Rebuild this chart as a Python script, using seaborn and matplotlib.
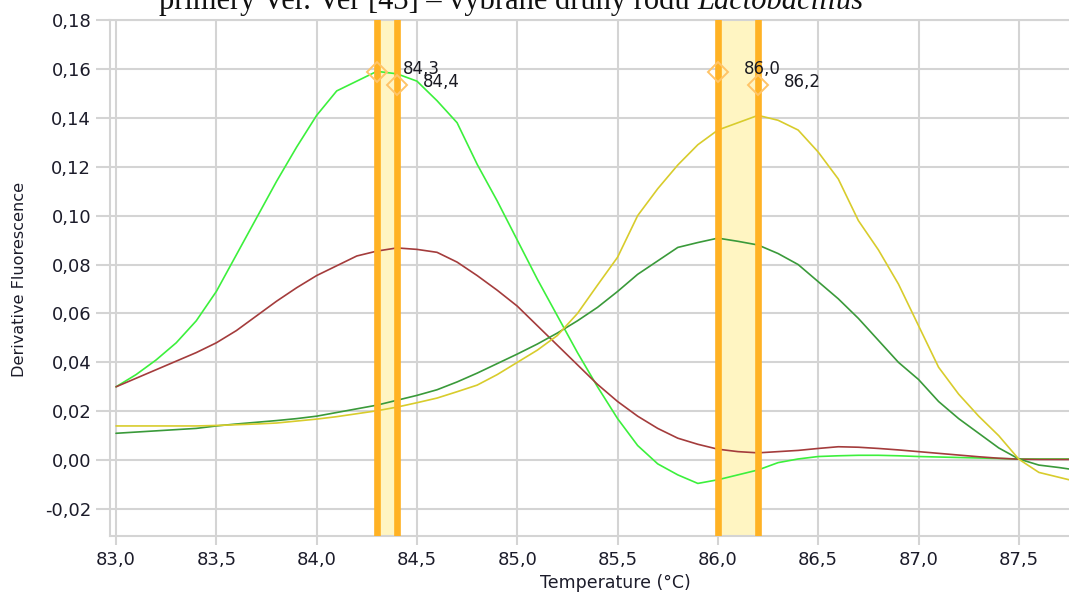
import matplotlib
matplotlib.use("Agg")
import matplotlib.pyplot as plt
import matplotlib.ticker as mticker
import seaborn as sns
import pandas as pd

# ---------------- data ----------------
temps = [83.0, 83.1, 83.2, 83.3, 83.4, 83.5, 83.6, 83.7, 83.8, 83.9,
         84.0, 84.1, 84.2, 84.3, 84.4, 84.5, 84.6, 84.7, 84.8, 84.9,
         85.0, 85.1, 85.2, 85.3, 85.4, 85.5, 85.6, 85.7, 85.8, 85.9,
         86.0, 86.1, 86.2, 86.3, 86.4, 86.5, 86.6, 86.7, 86.8, 86.9,
         87.0, 87.1, 87.2, 87.3, 87.4, 87.5, 87.6, 87.7, 87.8]

lime_curve = [0.030, 0.035, 0.041, 0.048, 0.057, 0.069, 0.084, 0.099, 0.114, 0.128,
              0.141, 0.151, 0.155, 0.159, 0.158, 0.155, 0.147, 0.138, 0.121, 0.106,
              0.090, 0.074, 0.059, 0.044, 0.030, 0.017, 0.006, -0.0015, -0.006, -0.0095,
              -0.008, -0.006, -0.004, -0.001, 0.0005, 0.0015, 0.0018, 0.002, 0.002, 0.0018,
              0.0015, 0.0013, 0.0011, 0.0009, 0.0007, 0.0005, 0.0005, 0.0005, 0.0005]

red_curve = [0.030, 0.0335, 0.037, 0.0405, 0.044, 0.048, 0.053, 0.059, 0.065, 0.0705,
             0.0755, 0.0795, 0.0835, 0.0855, 0.0868, 0.0862, 0.085, 0.081, 0.0755, 0.0695,
             0.063, 0.055, 0.047, 0.039, 0.031, 0.024, 0.018, 0.013, 0.009, 0.0065,
             0.0045, 0.0035, 0.003, 0.0035, 0.004, 0.0048, 0.0055, 0.0053, 0.0048, 0.0042,
             0.0035, 0.0028, 0.0021, 0.0014, 0.0008, 0.0004, 0.0003, 0.0003, 0.0003]

green_curve = [0.011, 0.0115, 0.012, 0.0125, 0.013, 0.014, 0.0148, 0.0155, 0.0162, 0.017,
               0.018, 0.0195, 0.021, 0.0225, 0.0245, 0.0265, 0.0288, 0.032, 0.0356, 0.0395,
               0.0434, 0.0475, 0.052, 0.057, 0.0625, 0.069, 0.076, 0.0815, 0.087, 0.089,
               0.0908, 0.0895, 0.088, 0.0845, 0.080, 0.073, 0.066, 0.058, 0.049, 0.040,
               0.033, 0.024, 0.017, 0.011, 0.005, 0.0005, -0.002, -0.003, -0.0042]

yellow_curve = [0.014, 0.014, 0.014, 0.014, 0.014, 0.0142, 0.0145, 0.0148, 0.0152, 0.016,
                0.0168, 0.0178, 0.019, 0.0202, 0.0217, 0.0235, 0.0254, 0.028, 0.0307, 0.035,
                0.040, 0.045, 0.051, 0.060, 0.0716, 0.083, 0.100, 0.111, 0.1207, 0.129,
                0.135, 0.138, 0.141, 0.139, 0.135, 0.126, 0.115, 0.098, 0.086, 0.072,
                0.055, 0.038, 0.027, 0.018, 0.010, 0.0004, -0.005, -0.007, -0.009]

curve_names = ["lime", "red", "green", "yellow"]
curve_colors = ["#3cf03c", "#a43c3c", "#3a9a3a", "#d8cc2c"]

band_pairs = [(84.3, 84.4), (86.0, 86.2)]
peak_temps = [84.3, 84.4, 86.0, 86.2]
peak_heights = [0.1587, 0.1534, 0.1587, 0.1534]
peak_labels = ["84,3", "84,4", "86,0", "86,2"]

x_ticks = [83.0, 83.5, 84.0, 84.5, 85.0, 85.5, 86.0, 86.5, 87.0, 87.5]
y_ticks = [-0.02, 0.0, 0.02, 0.04, 0.06, 0.08, 0.10, 0.12, 0.14, 0.16, 0.18]

title_main = "primery Ver. Ver [43] \u2013 vybrané druhy rodu "
title_italic = "Lactobacillus"
x_label = "Temperature (°C)"
y_label = "Derivative Fluorescence"

# ---------------- figure ----------------
sns.set_style("white")
plt.rcParams["font.family"] = ["DejaVu Sans"]

W, H = 1069, 593
fig = plt.figure(figsize=(W / 100, H / 100), dpi=100)
ax = fig.add_axes([110 / W, 1 - 536 / H, (W - 110) / W, (536 - 20) / H])

df = pd.DataFrame({
    "T": temps * 4,
    "v": lime_curve + red_curve + green_curve + yellow_curve,
    "curve": sum([[n] * len(temps) for n in curve_names], []),
})

grid_col = "#d4d4d4"
for a, b in band_pairs:
    ax.axvspan(a, b, color="#fff5c2", zorder=0.6, lw=0)

sns.lineplot(data=df, x="T", y="v", hue="curve", hue_order=curve_names,
             palette=dict(zip(curve_names, curve_colors)), linewidth=1.2,
             legend=False, ax=ax, zorder=2, sort=False)

for a, b in band_pairs:
    ax.axvline(a, color="#ffb224", lw=4.8, zorder=3)
    ax.axvline(b, color="#ffb224", lw=4.8, zorder=3)

ax.plot(peak_temps, peak_heights, linestyle="none", marker="D", ms=10.5,
        mfc="none", mec="#ffc468", mew=1.4, zorder=4)
for t, h, lab in zip(peak_temps, peak_heights, peak_labels):
    ax.annotate(lab, (t, h), xytext=(26, 3), textcoords="offset pixels",
                ha="left", va="center", fontsize=12, color="#1a1a22", zorder=5)

ax.set_xlim(82.97, 87.75)
ax.set_ylim(-0.031, 0.18)
ax.set_xticks(x_ticks)
ax.set_yticks(y_ticks)
ax.xaxis.set_major_formatter(mticker.FuncFormatter(lambda v, p: f"{v:.1f}".replace(".", ",")))
ax.yaxis.set_major_formatter(mticker.FuncFormatter(
    lambda v, p: ("0,00" if abs(v) < 1e-9 else f"{v:.2f}".replace(".", ","))))

ax.grid(True, color=grid_col, linewidth=1.5, zorder=0)
ax.set_axisbelow(True)
ax.tick_params(axis="both", which="major", width=1.5, color=grid_col,
               labelsize=13, labelcolor="#1c1c2a", direction="out")
ax.tick_params(axis="x", length=6.5, pad=4.5)
ax.tick_params(axis="y", length=10, pad=3.5)
ax.tick_params(left=True, bottom=True)
for side in ["left", "bottom", "top"]:
    ax.spines[side].set_color(grid_col)
    ax.spines[side].set_linewidth(1.5)
ax.spines["right"].set_visible(False)
ax.set_xlabel("")
ax.set_ylabel("")

fig.text(615 / W, 1 - 583 / H, x_label, ha="center", va="center", fontsize=12.5, color="#1c1c2a")
fig.text(20 / W, 1 - 279 / H, y_label, ha="center", va="center", rotation=90,
         fontsize=11.6, color="#1c1c2a")

t1 = fig.text(159 / W, 1 - 9 / H, title_main, ha="left", va="baseline",
              fontsize=22, family="Liberation Serif", color="#111111")
fig.canvas.draw()
bb = t1.get_window_extent()
fig.text(bb.x1 / W, 1 - 9 / H, title_italic, ha="left", va="baseline",
         fontsize=22, family="Liberation Serif", style="italic", color="#111111")

fig.savefig("out.png", dpi=100)
